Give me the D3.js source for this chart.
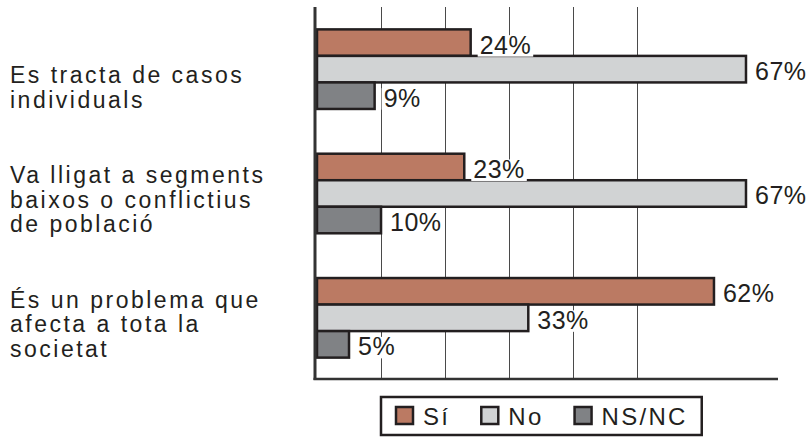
<!DOCTYPE html>
<html>
<head>
<meta charset="utf-8">
<script src="https://cdn.jsdelivr.net/npm/d3@7/dist/d3.min.js"></script>
<style>
  body { margin: 0; background: #fff; }
  svg { display: block; font-family: "Liberation Sans", Arial, sans-serif; }
</style>
</head>
<body>
<svg id="chart" width="809" height="437"></svg>
<script>
(function () {
    'use strict';

    // data
    var categories = [
        ['Es tracta de casos', 'individuals'],
        ['Va lligat a segments', 'baixos o conflictius', 'de població'],
        ['És un problema que', 'afecta a tota la', 'societat']
    ];
    var series = ['Sí', 'No', 'NS/NC'];
    var valuesSi = [24, 23, 62];
    var valuesNo = [67, 67, 33];
    var valuesNsnc = [9, 10, 5];
    var gridTicks = [10, 20, 30, 40, 50];

    var colors = ['#bb7a63', '#d1d3d4', '#808285'];
    var ink = '#231f20';

    var rows = categories.map(function (lines, i) {
        return { index: i, lines: lines, values: [valuesSi[i], valuesNo[i], valuesNsnc[i]] };
    });

    var svg = d3.select('#chart');

    var plot = { left: 317, right: 778, top: 7, bottom: 380 };

    var x = d3.scaleLinear()
        .domain([0, 72])
        .range([plot.left, plot.right]);

    var y = d3.scaleBand()
        .domain(d3.range(categories.length))
        .range([plot.top, plot.bottom])
        .paddingInner(0.36)
        .paddingOuter(0.18);

    var yi = d3.scaleBand()
        .domain(series)
        .range([0, y.bandwidth()]);

    // grid lines
    svg.append('g')
        .selectAll('line')
        .data(gridTicks)
        .enter().append('line')
        .attr('x1', function (d) { return Math.round(x(d)) + 0.5; })
        .attr('x2', function (d) { return Math.round(x(d)) + 0.5; })
        .attr('y1', plot.top)
        .attr('y2', plot.bottom)
        .attr('stroke', '#4a4a4a')
        .attr('stroke-width', 1);

    // category labels, one text per line, last line sits on the bottom of the group
    var lineHeight = 24.5;
    var labels = svg.append('g')
        .selectAll('g')
        .data(rows)
        .enter().append('g');

    labels.each(function (d) {
        var last = y(d.index) + y.bandwidth() - 1;
        var first = last - (d.lines.length - 1) * lineHeight;
        d3.select(this).selectAll('text')
            .data(d.lines)
            .enter().append('text')
            .attr('x', 10)
            .attr('y', function (l, k) { return first + k * lineHeight; })
            .attr('font-size', 23)
            .attr('letter-spacing', 2.5)
            .attr('fill', ink)
            .text(function (l) { return l; });
    });

    var groups = svg.append('g')
        .selectAll('g')
        .data(rows)
        .enter().append('g')
        .attr('transform', function (d) { return 'translate(0,' + y(d.index) + ')'; });

    // bars
    groups.selectAll('rect')
        .data(function (d) { return d.values.map(function (v, k) { return { key: series[k], value: v, color: colors[k] }; }); })
        .enter().append('rect')
        .attr('x', x(0))
        .attr('y', function (d) { return yi(d.key); })
        .attr('width', function (d) { return x(d.value) - x(0); })
        .attr('height', yi.bandwidth())
        .attr('fill', function (d) { return d.color; })
        .attr('stroke', ink)
        .attr('stroke-width', 2.5);

    // value labels with white backing so grid lines break behind them
    var valueSize = 25;
    groups.selectAll('g.value')
        .data(function (d) { return d.values.map(function (v, k) { return { key: series[k], value: v }; }); })
        .enter().append('g')
        .attr('class', 'value')
        .each(function (d) {
            var g = d3.select(this);
            var base = yi(d.key) + yi.bandwidth() / 2 + 11;
            var bg = g.append('rect').attr('fill', '#fff');
            var t = g.append('text')
                .attr('x', x(d.value) + 9)
                .attr('y', base)
                .attr('font-size', valueSize)
                .attr('letter-spacing', 0.5)
                .attr('fill', ink)
                .text(d.value + '%');
            var w = t.node().getComputedTextLength();
            bg.attr('x', x(d.value) + 7)
                .attr('y', base - valueSize * 0.74)
                .attr('width', w + 4)
                .attr('height', valueSize * 0.74 + 3);
        });

    // axes
    svg.append('line')
        .attr('x1', plot.left - 2).attr('x2', plot.left - 2)
        .attr('y1', plot.top).attr('y2', plot.bottom)
        .attr('stroke', '#333').attr('stroke-width', 3);
    svg.append('line')
        .attr('x1', plot.left - 3.5).attr('x2', plot.right)
        .attr('y1', plot.bottom - 1).attr('y2', plot.bottom - 1)
        .attr('stroke', '#333').attr('stroke-width', 2.5);

    // legend
    var legend = svg.append('g');
    var box = legend.append('rect')
        .attr('fill', '#fff')
        .attr('stroke', ink)
        .attr('stroke-width', 2.5);

    var cursor = 15;
    var sw = 17;
    series.forEach(function (s, k) {
        legend.append('rect')
            .attr('x', cursor)
            .attr('y', 10)
            .attr('width', sw)
            .attr('height', sw)
            .attr('fill', colors[k])
            .attr('stroke', ink)
            .attr('stroke-width', 2.5);
        var t = legend.append('text')
            .attr('x', cursor + sw + 10)
            .attr('y', 28)
            .attr('font-size', 24)
            .attr('letter-spacing', 2.3)
            .attr('fill', ink)
            .text(s);
        cursor += sw + 10 + t.node().getComputedTextLength() + (k < series.length - 1 ? 31 : 14);
    });
    box.attr('x', 0).attr('y', 0).attr('width', cursor).attr('height', 38);
    legend.attr('transform', 'translate(' + Math.round((plot.left + plot.right) / 2 - cursor / 2 - 6) + ',397)');
}());
</script>
</body>
</html>
